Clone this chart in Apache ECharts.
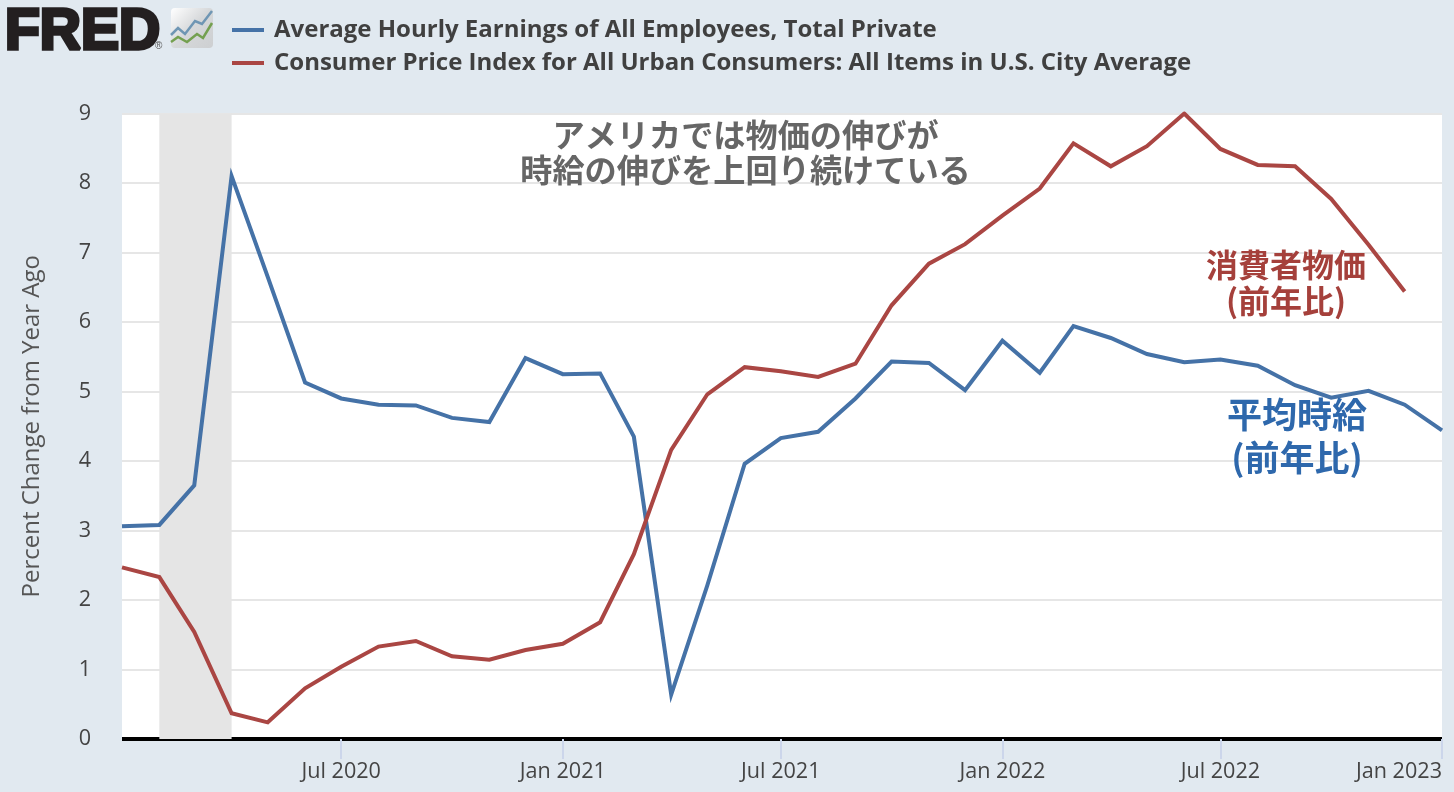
<!DOCTYPE html>
<html><head><meta charset="utf-8">
<style>html,body{margin:0;padding:0;background:#e1e9f0}#c{width:1454px;height:792px}</style>
<script src="https://cdn.jsdelivr.net/npm/echarts@6/dist/echarts.min.js"></script>
</head><body><div id="c"></div>
<script>
const months = ['2020-01','2020-02','2020-03','2020-04','2020-05','2020-06','2020-07','2020-08','2020-09','2020-10','2020-11','2020-12',
'2021-01','2021-02','2021-03','2021-04','2021-05','2021-06','2021-07','2021-08','2021-09','2021-10','2021-11','2021-12',
'2022-01','2022-02','2022-03','2022-04','2022-05','2022-06','2022-07','2022-08','2022-09','2022-10','2022-11','2022-12','2023-01'];
const earnings = [3.06,3.08,3.65,8.10,6.65,5.13,4.90,4.81,4.80,4.62,4.56,5.48,5.25,5.26,4.35,0.64,2.21,3.96,4.33,4.42,4.90,5.43,5.41,5.02,5.73,5.27,5.94,5.77,5.54,5.42,5.46,5.37,5.09,4.91,5.01,4.81,4.44];
const cpi = [2.47,2.33,1.54,0.37,0.24,0.73,1.04,1.33,1.41,1.19,1.14,1.28,1.37,1.68,2.66,4.16,4.96,5.35,5.29,5.21,5.40,6.24,6.84,7.12,7.53,7.92,8.57,8.24,8.53,9.0,8.49,8.26,8.24,7.77,7.11,6.44];
const xTicks = ['2020-07-01','2021-01-01','2021-07-01','2022-01-01','2022-07-01','2023-01-01'];
const recession = ['2020-02-01','2020-04-01'];
const earningsName = 'Average Hourly Earnings of All Employees, Total Private';
const cpiName = 'Consumer Price Index for All Urban Consumers: All Items in U.S. City Average';
const MON = ['Jan','Feb','Mar','Apr','May','Jun','Jul','Aug','Sep','Oct','Nov','Dec'];
const ts = s => { const p = s.split('-').map(Number); return Date.UTC(p[0], p[1]-1, p[2]||1); };
const toPairs = arr => arr.map((v,i)=>[ts(months[i]), v]);
const FONT = '"Open Sans","Noto Sans",sans-serif';
const CJK = '"Noto Sans CJK JP",sans-serif';
const chart = echarts.init(document.getElementById('c'), null, {renderer:'canvas'});
const note = (x,y,lines,color,size,lh) => ({type:'text', x, y, z:50, style:{text:lines, fill:color, font:`bold ${size}px ${CJK}`, align:'center', verticalAlign:'top', lineHeight:lh}});
chart.setOption({
  animation:false, backgroundColor:'#e1e9f0',
  grid:{left:122,right:12,top:113.5,bottom:53,show:true,backgroundColor:'#ffffff',borderWidth:0},
  legend:{left:227,top:13,orient:'vertical',itemWidth:32,itemHeight:4,itemGap:9,icon:'rect',selectedMode:false,
    textStyle:{fontFamily:FONT,fontWeight:'bold',fontSize:24,color:'#404040',padding:[0,0,0,5],lineHeight:24},
    data:[earningsName,cpiName]},
  xAxis:{type:'value',min:ts('2020-01-01'),max:ts('2023-01-01'),
    axisLine:{show:true,onZero:false,lineStyle:{color:'#000',width:4,cap:'butt'}},
    axisTick:{show:true,customValues:xTicks.map(ts),length:20,lineStyle:{color:'#ccd6eb',width:2}},
    splitLine:{show:false},minorTick:{show:false},
    axisLabel:{customValues:xTicks.map(ts),alignMaxLabel:'right',hideOverlap:false,margin:22,fontFamily:FONT,fontSize:21.6,color:'#444',
      formatter:v=>{const d=new Date(v);return MON[d.getUTCMonth()]+' '+d.getUTCFullYear();}}},
  yAxis:{type:'value',min:0,max:9,interval:1,name:'Percent Change from Year Ago',nameLocation:'middle',nameGap:78,
    nameTextStyle:{fontFamily:FONT,fontSize:24,color:'#555'},
    axisLine:{show:false},axisTick:{show:false},
    axisLabel:{margin:31,fontFamily:FONT,fontSize:21.6,color:'#444'},
    splitLine:{show:true,lineStyle:{color:'#e6e6e6',width:2}}},
  series:[
    {name:earningsName,type:'line',data:toPairs(earnings),showSymbol:false,symbol:'none',lineStyle:{color:'#4572a7',width:4,join:'miter'},itemStyle:{color:'#4572a7'},z:3,
      markArea:{silent:true,itemStyle:{color:'#e5e5e5',opacity:1},data:[[{xAxis:ts(recession[0])},{xAxis:ts(recession[1])}]]}},
    {name:cpiName,type:'line',data:toPairs(cpi),showSymbol:false,symbol:'none',lineStyle:{color:'#aa4643',width:4,join:'miter'},itemStyle:{color:'#aa4643'},z:4}
  ],
  graphic:[
    {type:'text',x:5,y:5,style:{text:'FRED',fill:'#231f20',font:'900 57px "Liberation Sans",sans-serif',stroke:'#231f20',lineWidth:3.5}},
    {type:'text',x:155,y:41,style:{text:'®',fill:'#555',font:'10px "Liberation Sans",sans-serif'}},
    {type:'rect',shape:{x:171,y:8,width:42,height:40,r:4},style:{fill:new echarts.graphic.LinearGradient(0,0,1,1,[{offset:0,color:'#ffffff'},{offset:0.5,color:'#d6d8da'},{offset:1,color:'#cdcfd1'}])}},
    {type:'polyline',shape:{points:[[171,35],[178,28],[185,34],[195,21],[202,24],[212,11]]},style:{stroke:'#6f96b4',lineWidth:2.5,fill:null}},
    {type:'polyline',shape:{points:[[171,42],[178,37],[187,42],[197,34],[203,38],[212,23]]},style:{stroke:'#74a050',lineWidth:2.5,fill:null}},
    note(745.5,117,'アメリカでは物価の伸びが\n時給の伸びを上回り続けている','#666666',32.2,35),
    note(1286,247,'消費者物価\n(前年比)','#a5403b',32,36),
    note(1297,393,'平均時給\n(前年比)','#2e68ac',35,43)
  ]
});
</script></body></html>
